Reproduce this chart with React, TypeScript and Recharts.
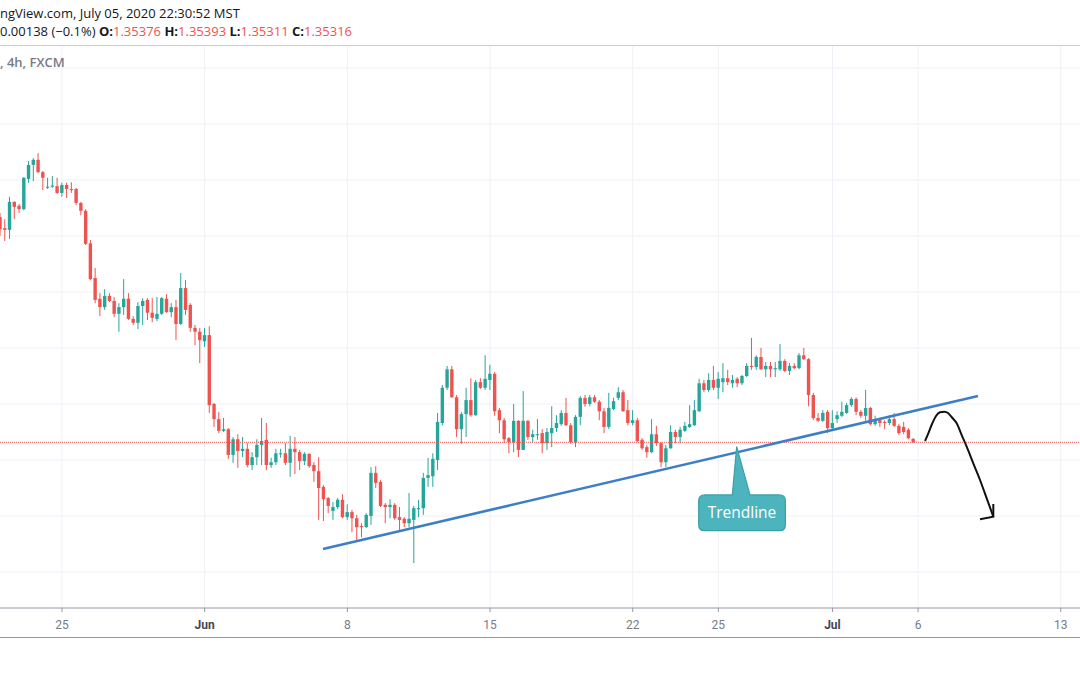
import React from "react";
import {
  ComposedChart,
  Bar,
  XAxis,
  YAxis,
  CartesianGrid,
  ReferenceLine,
  ReferenceDot,
  Scatter,
} from "recharts";

// ---- candle data (USDCAD 4h, FXCM). Index 0 = first bar of May 25 ----
const firstIndex = -13;

const opens = [
  1.3934, 1.3914, 1.3911, 1.3961, 1.3954, 1.3948, 1.4002, 1.4027, 1.4036, 1.4014,
  1.3987, 1.3988, 1.3989, 1.3977, 1.3991, 1.3984, 1.3984, 1.3959, 1.3945, 1.3887,
  1.3825, 1.3788, 1.3773, 1.3793, 1.3784, 1.3761, 1.3773, 1.3788, 1.3752, 1.3745,
  1.3775, 1.3786, 1.3763, 1.3752, 1.3761, 1.3788, 1.3764, 1.3773, 1.3743, 1.3807,
  1.3777, 1.3736, 1.3729, 1.3712, 1.3723, 1.3600, 1.3573, 1.3552, 1.3555, 1.3509,
  1.3537, 1.3516, 1.3520, 1.3491, 1.3505, 1.3527, 1.3536, 1.3491, 1.3496, 1.3511,
  1.3512, 1.3495, 1.3520, 1.3514, 1.3498, 1.3511, 1.3491, 1.3480, 1.3452, 1.3432,
  1.3409, 1.3416, 1.3429, 1.3398, 1.3407, 1.3396, 1.3382, 1.3380, 1.3400, 1.3477,
  1.3461, 1.3420, 1.3416, 1.3420, 1.3398, 1.3395, 1.3387, 1.3393, 1.3412, 1.3414,
  1.3468, 1.3471, 1.3500, 1.3566, 1.3629, 1.3662, 1.3612, 1.3555, 1.3582, 1.3607,
  1.3580, 1.3639, 1.3629, 1.3643, 1.3654, 1.3589, 1.3571, 1.3539, 1.3532, 1.3570,
  1.3518, 1.3570, 1.3541, 1.3545, 1.3548, 1.3530, 1.3548, 1.3557, 1.3564, 1.3584,
  1.3562, 1.3532, 1.3577, 1.3611, 1.3600, 1.3612, 1.3604, 1.3587, 1.3559, 1.3591,
  1.3611, 1.3621, 1.3589, 1.3566, 1.3571, 1.3536, 1.3523, 1.3514, 1.3546, 1.3530,
  1.3496, 1.3521, 1.3550, 1.3541, 1.3552, 1.3559, 1.3562, 1.3587, 1.3637, 1.3625,
  1.3643, 1.3629, 1.3639, 1.3646, 1.3637, 1.3645, 1.3637, 1.3650, 1.3668, 1.3666,
  1.3684, 1.3662, 1.3668, 1.3662, 1.3662, 1.3677, 1.3659, 1.3668, 1.3664, 1.3687,
  1.3680, 1.3616, 1.3575, 1.3570, 1.3586, 1.3557, 1.3573, 1.3579, 1.3584, 1.3598,
  1.3609, 1.3586, 1.3579, 1.3593, 1.3564, 1.3571, 1.3568, 1.3566, 1.3573, 1.3561,
  1.3559, 1.3554, 1.35376,
];

const highs = [
  1.3941, 1.3930, 1.3970, 1.3962, 1.3957, 1.4005, 1.4034, 1.4039, 1.4048, 1.4016,
  1.4004, 1.4007, 1.4004, 1.3995, 1.3995, 1.3996, 1.3986, 1.3961, 1.3948, 1.3893,
  1.3843, 1.3798, 1.3805, 1.3798, 1.3791, 1.3780, 1.3823, 1.3798, 1.3757, 1.3782,
  1.3789, 1.3789, 1.3789, 1.3791, 1.3791, 1.3796, 1.3780, 1.3786, 1.3834, 1.3821,
  1.3780, 1.3741, 1.3736, 1.3736, 1.3739, 1.3602, 1.3586, 1.3575, 1.3557, 1.3541,
  1.3546, 1.3541, 1.3530, 1.3514, 1.3537, 1.3575, 1.3566, 1.3504, 1.3520, 1.3520,
  1.3530, 1.3543, 1.3541, 1.3518, 1.3514, 1.3512, 1.3496, 1.3505, 1.3455, 1.3434,
  1.3425, 1.3432, 1.3439, 1.3421, 1.3411, 1.3402, 1.3387, 1.3405, 1.3487, 1.3489,
  1.3464, 1.3423, 1.3430, 1.3423, 1.3416, 1.3398, 1.3441, 1.3418, 1.3429, 1.3477,
  1.3504, 1.3512, 1.3584, 1.3634, 1.3668, 1.3668, 1.3616, 1.3586, 1.3629, 1.3646,
  1.3643, 1.3646, 1.3687, 1.3670, 1.3657, 1.3593, 1.3575, 1.3541, 1.3600, 1.3571,
  1.3623, 1.3571, 1.3554, 1.3573, 1.3555, 1.3557, 1.3596, 1.3580, 1.3589, 1.3611,
  1.3566, 1.3580, 1.3614, 1.3616, 1.3616, 1.3616, 1.3607, 1.3593, 1.3620, 1.3611,
  1.3630, 1.3625, 1.3607, 1.3589, 1.3575, 1.3539, 1.3527, 1.3573, 1.3561, 1.3532,
  1.3527, 1.3562, 1.3554, 1.3559, 1.3568, 1.3598, 1.3607, 1.3645, 1.3643, 1.3655,
  1.3668, 1.3657, 1.3673, 1.3661, 1.3652, 1.3648, 1.3652, 1.3673, 1.3718, 1.3687,
  1.3700, 1.3675, 1.3675, 1.3675, 1.3707, 1.3680, 1.3673, 1.3673, 1.3691, 1.3700,
  1.3682, 1.3620, 1.3584, 1.3589, 1.3589, 1.3589, 1.3587, 1.3604, 1.3602, 1.3612,
  1.3612, 1.3589, 1.3625, 1.3595, 1.3579, 1.3575, 1.3571, 1.3580, 1.3584, 1.3564,
  1.3568, 1.3557, 1.35393,
];

const lows = [
  1.3900, 1.3891, 1.3895, 1.3930, 1.3941, 1.3946, 1.3995, 1.3998, 1.4012, 1.3982,
  1.3984, 1.3986, 1.3975, 1.3970, 1.3968, 1.3977, 1.3955, 1.3937, 1.3884, 1.3821,
  1.3780, 1.3757, 1.3768, 1.3782, 1.3755, 1.3729, 1.3759, 1.3750, 1.3741, 1.3734,
  1.3741, 1.3750, 1.3746, 1.3748, 1.3759, 1.3763, 1.3755, 1.3714, 1.3741, 1.3759,
  1.3729, 1.3705, 1.3673, 1.3702, 1.3584, 1.3559, 1.3548, 1.3550, 1.3502, 1.3495,
  1.3486, 1.3505, 1.3487, 1.3482, 1.3491, 1.3491, 1.3482, 1.3486, 1.3491, 1.3504,
  1.3491, 1.3470, 1.3475, 1.3482, 1.3491, 1.3486, 1.3461, 1.3393, 1.3391, 1.3405,
  1.3393, 1.3412, 1.3396, 1.3393, 1.3371, 1.3357, 1.3362, 1.3379, 1.3384, 1.3450,
  1.3416, 1.3387, 1.3396, 1.3393, 1.3373, 1.3380, 1.3380, 1.3316, 1.3398, 1.3402,
  1.3452, 1.3452, 1.3482, 1.3562, 1.3625, 1.3611, 1.3541, 1.3529, 1.3541, 1.3577,
  1.3579, 1.3627, 1.3625, 1.3625, 1.3579, 1.3548, 1.3530, 1.3512, 1.3514, 1.3505,
  1.3518, 1.3536, 1.3532, 1.3536, 1.3512, 1.3518, 1.3523, 1.3550, 1.3561, 1.3561,
  1.3529, 1.3523, 1.3562, 1.3595, 1.3596, 1.3602, 1.3571, 1.3548, 1.3555, 1.3589,
  1.3607, 1.3586, 1.3562, 1.3562, 1.3532, 1.3518, 1.3504, 1.3512, 1.3525, 1.3487,
  1.3487, 1.3520, 1.3530, 1.3530, 1.3550, 1.3557, 1.3561, 1.3586, 1.3621, 1.3621,
  1.3625, 1.3609, 1.3621, 1.3634, 1.3629, 1.3630, 1.3634, 1.3648, 1.3661, 1.3661,
  1.3661, 1.3648, 1.3648, 1.3648, 1.3659, 1.3657, 1.3652, 1.3662, 1.3662, 1.3679,
  1.3596, 1.3571, 1.3568, 1.3568, 1.3548, 1.3554, 1.3566, 1.3577, 1.3582, 1.3595,
  1.3580, 1.3575, 1.3568, 1.3562, 1.3561, 1.3559, 1.3555, 1.3562, 1.3559, 1.3545,
  1.3546, 1.3537, 1.35311,
];

const closes = [
  1.3912, 1.3911, 1.3961, 1.3952, 1.3948, 1.4004, 1.4027, 1.4036, 1.4014, 1.4004,
  1.3988, 1.3990, 1.3977, 1.3991, 1.3984, 1.3982, 1.3959, 1.3945, 1.3886, 1.3823,
  1.3786, 1.3773, 1.3793, 1.3784, 1.3761, 1.3773, 1.3788, 1.3752, 1.3745, 1.3775,
  1.3784, 1.3763, 1.3754, 1.3761, 1.3789, 1.3764, 1.3773, 1.3743, 1.3807, 1.3768,
  1.3736, 1.3729, 1.3714, 1.3723, 1.3598, 1.3573, 1.3552, 1.3555, 1.3509, 1.3537,
  1.3516, 1.3520, 1.3491, 1.3505, 1.3527, 1.3534, 1.3491, 1.3496, 1.3512, 1.3512,
  1.3495, 1.3520, 1.3514, 1.3498, 1.3511, 1.3489, 1.3480, 1.3450, 1.3430, 1.3418,
  1.3416, 1.3429, 1.3398, 1.3407, 1.3396, 1.3380, 1.3380, 1.3402, 1.3477, 1.3459,
  1.3418, 1.3416, 1.3420, 1.3396, 1.3393, 1.3387, 1.3395, 1.3414, 1.3414, 1.3468,
  1.3473, 1.3502, 1.3568, 1.3629, 1.3662, 1.3612, 1.3555, 1.3582, 1.3607, 1.3580,
  1.3639, 1.3629, 1.3645, 1.3654, 1.3587, 1.3571, 1.3537, 1.3532, 1.3570, 1.3518,
  1.3570, 1.3541, 1.3546, 1.3546, 1.3530, 1.3550, 1.3557, 1.3566, 1.3584, 1.3562,
  1.3532, 1.3577, 1.3611, 1.3600, 1.3612, 1.3604, 1.3587, 1.3559, 1.3593, 1.3605,
  1.3621, 1.3587, 1.3566, 1.3571, 1.3534, 1.3521, 1.3514, 1.3546, 1.3530, 1.3496,
  1.3521, 1.3550, 1.3541, 1.3554, 1.3561, 1.3564, 1.3589, 1.3637, 1.3625, 1.3643,
  1.3629, 1.3645, 1.3646, 1.3639, 1.3643, 1.3637, 1.3650, 1.3668, 1.3666, 1.3684,
  1.3662, 1.3668, 1.3662, 1.3664, 1.3677, 1.3659, 1.3668, 1.3664, 1.3687, 1.3680,
  1.3616, 1.3575, 1.3570, 1.3584, 1.3557, 1.3566, 1.3580, 1.3586, 1.3598, 1.3609,
  1.3586, 1.3579, 1.3593, 1.3564, 1.3571, 1.3566, 1.3566, 1.3573, 1.3561, 1.3548,
  1.3550, 1.3539, 1.35316,
];

// ---- axes ----
const tickIndices = [0, 30, 60, 90, 120, 138, 162, 180, 210];
const tickLabels = ["25", "Jun", "8", "15", "22", "25", "Jul", "6", "13"];
const monthLabels = ["Jun", "Jul"];
const priceTicks = [1.33, 1.34, 1.35, 1.36, 1.37, 1.38, 1.39, 1.4, 1.41, 1.42];
const xDomain = [-13.036, 214.045];
const yDomain = [1.32357, 1.42393];

// ---- header values ----
const headerSource = "ngView.com, July 05, 2020 22:30:52 MST";
const headerChange = "0.00138 (\u22120.1%)";
const ohlcLabels = ["O", "H", "L", "C"];
const ohlcValues = ["1.35376", "1.35393", "1.35311", "1.35316"];
const symbolText = ", 4h, FXCM";
const lastClose = 1.35316;

// ---- drawings ----
const trendline = [
  { x: 54.88, y: 1.33411 },
  { x: 192.6, y: 1.36143 },
];
const callout = { x: 141.86, y: 1.35238, text: "Trendline" };
const arrowCurve = [
  { k: 181.45, p: 1.35339 },
  { k: 182.09, p: 1.35464 },
  { k: 182.93, p: 1.35643 },
  { k: 183.77, p: 1.35786 },
  { k: 184.61, p: 1.35852 },
  { k: 185.51, p: 1.35863 },
  { k: 186.29, p: 1.35839 },
  { k: 187.13, p: 1.35759 },
  { k: 188.12, p: 1.35655 },
  { k: 189.17, p: 1.35446 },
  { k: 190.22, p: 1.35238 },
  { k: 191.61, p: 1.34941 },
  { k: 193.02, p: 1.34643 },
  { k: 194.43, p: 1.34316 },
  { k: 195.82, p: 1.33988 },
];
const arrowHead = [
  { k: 193.02, p: 1.33941 },
  { k: 195.82, p: 1.33988 },
  { k: 195.82, p: 1.34214 },
];

const UP = "#26a69a";
const DOWN = "#ef5350";

const n = Math.min(opens.length, highs.length, lows.length, closes.length);
const candles = Array.from({ length: n }, (_, i) => ({
  k: firstIndex + i,
  open: opens[i],
  high: highs[i],
  low: lows[i],
  close: closes[i],
  range: [lows[i], highs[i]],
}));

const CandleShape = (props: any) => {
  const { x, y, width, height, payload } = props;
  if (!payload || x == null || y == null) return <g />;
  const { open, close, high, low } = payload;
  const top = Math.min(y, y + height);
  const bottom = Math.max(y, y + height);
  const span = high - low;
  const toY = (v: number) => (span > 0 ? top + ((high - v) / span) * (bottom - top) : top);
  const cx = x + width / 2;
  const color = close >= open ? UP : DOWN;
  const yO = toY(open);
  const yC = toY(close);
  const bw = 3.4;
  const bTop = Math.min(yO, yC);
  const bH = Math.max(Math.abs(yO - yC), 1);
  return (
    <g>
      <line x1={cx} x2={cx} y1={top} y2={bottom} stroke={color} strokeWidth={1} />
      <rect x={cx - bw / 2} y={bTop} width={bw} height={bH} fill={color} />
    </g>
  );
};

const AxisTick = (props: any) => {
  const { x, y, payload } = props;
  const idx = tickIndices.indexOf(payload.value);
  const label = idx >= 0 ? tickLabels[idx] : "";
  const isMonth = monthLabels.includes(label);
  return (
    <text
      x={x}
      y={y}
      dy="0.71em"
      textAnchor="middle"
      fontSize={12}
      fontFamily="Roboto, sans-serif"
      fontWeight={isMonth ? 700 : 400}
      fill={isMonth ? "#434651" : "#787b86"}
    >
      {label}
    </text>
  );
};

const CalloutShape = (props: any) => {
  const { cx, cy } = props;
  if (cx == null || cy == null) return <g />;
  const L = cx - 38;
  const R = cx + 48.7;
  const T = cy + 48.3;
  const B = cy + 84;
  const r = 6;
  const d = `M${L + r},${T} H${cx - 4.4} L${cx},${cy} L${cx + 13.3},${T} H${R - r} Q${R},${T} ${R},${T + r} V${B - r} Q${R},${B} ${R - r},${B} H${L + r} Q${L},${B} ${L},${B - r} V${T + r} Q${L},${T} ${L + r},${T} Z`;
  return (
    <g>
      <path d={d} fill="#4cb4bd" stroke="#3a9fa8" strokeWidth={1.2} />
      <text
        x={cx + 5.3}
        y={cy + 65.5}
        textAnchor="middle"
        dominantBaseline="central"
        fill="#ffffff"
        fontSize={15.5}
        fontFamily="'Open Sans', sans-serif"
      >
        {callout.text}
      </text>
    </g>
  );
};

const Empty = () => <g />;

export default function App() {
  return (
    <div
      style={{
        position: "absolute",
        left: 0,
        top: 0,
        width: 1080,
        height: 675,
        overflow: "hidden",
        background: "#ffffff",
        fontFamily: "'Open Sans', sans-serif",
      }}
    >
      <ComposedChart
        width={1080}
        height={675}
        data={candles}
        margin={{ top: 46, right: 0, bottom: 38, left: 0 }}
        style={{ position: "absolute", left: 0, top: 0 }}
      >
        <CartesianGrid stroke="#eef1f6" strokeWidth={1} horizontalValues={priceTicks} verticalValues={tickIndices} />
        <XAxis
          dataKey="k"
          type="number"
          domain={xDomain}
          allowDataOverflow
          ticks={tickIndices}
          interval={0}
          height={29}
          tickSize={4}
          tickMargin={8}
          axisLine={{ stroke: "#9598a1" }}
          tickLine={{ stroke: "#9598a1" }}
          tick={<AxisTick />}
        />
        <YAxis hide type="number" domain={yDomain} allowDataOverflow ticks={priceTicks} />
        <ReferenceLine y={lastClose} stroke={DOWN} strokeDasharray="1 1" strokeWidth={1} />
        <Bar dataKey="range" barSize={4} shape={<CandleShape />} isAnimationActive={false} />
        <ReferenceLine
          segment={trendline}
          stroke="#3d7fc6"
          strokeWidth={2.6}
          ifOverflow="visible"
        />
        <ReferenceDot
          x={callout.x}
          y={callout.y}
          r={1}
          ifOverflow="visible"
          shape={<CalloutShape />}
        />
        <Scatter
          data={arrowCurve}
          dataKey="p"
          line={{ stroke: "#111111", strokeWidth: 2 }}
          lineType="joint"
          lineJointType="monotoneX"
          shape={<Empty />}
          isAnimationActive={false}
        />
        <Scatter
          data={arrowHead}
          dataKey="p"
          line={{ stroke: "#111111", strokeWidth: 2 }}
          lineType="joint"
          lineJointType="linear"
          shape={<Empty />}
          isAnimationActive={false}
        />
      </ComposedChart>

      {/* header */}
      <div
        style={{
          position: "absolute",
          left: 0,
          top: 4,
          fontSize: 13,
          lineHeight: "18px",
          color: "#131722",
          whiteSpace: "nowrap",
        }}
      >
        {headerSource}
      </div>
      <div
        style={{
          position: "absolute",
          left: 0,
          top: 22,
          fontSize: 13,
          lineHeight: "18px",
          color: "#131722",
          whiteSpace: "nowrap",
        }}
      >
        {headerChange}
        {ohlcLabels.map((l, i) => (
          <span key={l}>
            {" "}
            <b>{l}:</b>
            <span style={{ color: DOWN }}>{ohlcValues[i]}</span>
          </span>
        ))}
      </div>
      <div
        style={{
          position: "absolute",
          left: 0,
          top: 45,
          width: 1080,
          height: 1,
          background: "#c9ccd3",
        }}
      />
      <div
        style={{
          position: "absolute",
          left: 0,
          top: 53,
          fontSize: 13,
          lineHeight: "18px",
          fontWeight: 600,
          color: "#787b86",
          whiteSpace: "nowrap",
        }}
      >
        {symbolText}
      </div>
      <div
        style={{
          position: "absolute",
          left: 0,
          top: 637,
          width: 1080,
          height: 1,
          background: "#9598a1",
        }}
      />
    </div>
  );
}
